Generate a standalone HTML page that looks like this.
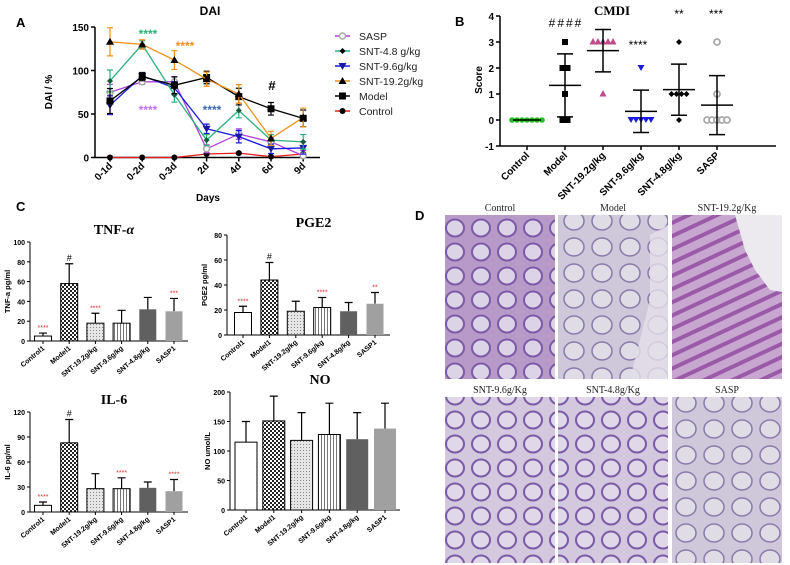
<!DOCTYPE html>
<html><head><meta charset="utf-8"><style>
body{margin:0;background:#fff}
svg{display:block;font-family:"Liberation Sans",Arial,sans-serif}
.ser{font-family:"Liberation Serif",serif}
</style></head><body>
<svg id="fig" width="790" height="565" viewBox="0 0 790 565" xmlns="http://www.w3.org/2000/svg">
<defs>
<pattern id="chk" width="4" height="4" patternUnits="userSpaceOnUse"><rect width="4" height="4" fill="#fff"/><rect width="2" height="2" fill="#222"/><rect x="2" y="2" width="2" height="2" fill="#222"/></pattern>
<pattern id="dot" width="3" height="3" patternUnits="userSpaceOnUse"><rect width="3" height="3" fill="#e6e6e6"/><rect width="1" height="1" fill="#888"/></pattern>
<pattern id="vl" width="3" height="3" patternUnits="userSpaceOnUse"><rect width="3" height="3" fill="#fff"/><rect width="1" height="3" fill="#777"/></pattern>
<pattern id="crypt" width="26" height="24" patternUnits="userSpaceOnUse"><rect width="26" height="24" fill="#b89ac8"/><ellipse cx="13" cy="12" rx="9" ry="8.5" fill="#ddd3e6" stroke="#7a5aa6" stroke-width="2"/></pattern>
<pattern id="crypt2" width="28" height="26" patternUnits="userSpaceOnUse"><rect width="28" height="26" fill="#cfc8da"/><ellipse cx="14" cy="13" rx="10" ry="9" fill="#e0dce6" stroke="#8a7aaa" stroke-width="1.5"/></pattern>
<pattern id="crypt3" width="16" height="12" patternUnits="userSpaceOnUse" patternTransform="rotate(-25)"><rect width="16" height="12" fill="#c7a6cf"/><rect y="4" width="16" height="4" fill="#9a5aa8"/></pattern>
<pattern id="crypt4" width="26" height="24" patternUnits="userSpaceOnUse"><rect width="26" height="24" fill="#d3c8de"/><ellipse cx="13" cy="12" rx="9" ry="8.5" fill="#e0d8e8" stroke="#7a5aa6" stroke-width="2"/></pattern>
</defs>
<g id="pA"></g><g id="pB"></g><g id="pC"></g><g id="pD"></g>
</svg>
<script>
const NS="http://www.w3.org/2000/svg";
function mk(p,t,a,txt){const e=document.createElementNS(NS,t);for(const k in a)e.setAttribute(k,a[k]);if(txt!==undefined)e.textContent=txt;p.appendChild(e);return e;}

// ---------- Panel A data ----------
const dayCats=["0-1d","0-2d","0-3d","2d","4d","6d","9d"];
const saspVals=[75,87,87,10,27,18,2];
const snt48Vals=[88,130,72,20,54,20,18];
const snt96Vals=[60,94,80,33,24,10,11];
const snt192Vals=[133,130,112,90,73,22,46];
const modelVals=[65,93,83,92,70,56,45];
const controlVals=[0,0,0,4,5,1,4];
const dayErr=[12,4,8,6,8,6,8];
const aTicks=[0,50,100,150];

// ---------- Panel B data ----------
const bCats=["Control","Model","SNT-19.2g/kg","SNT-9.6g/kg","SNT-4.8g/kg","SASP"];
const bControl=[0,0,0,0,0,0,0];
const bModel=[3,2,2,1,0,0];
const b192=[3,3,3,3,3,1];
const b96=[2,0,0,0,0,0];
const b48=[3,1,1,1,1,0];
const bSasp=[3,1,0,0,0,0,0];
const bTicks=[-1,0,1,2,3,4];

// ---------- Panel C data ----------
const cCats=["Control1","Model1","SNT-19.2g/kg","SNT-9.6g/kg","SNT-4.8g/kg","SASP1"];
const tnfVals=[5,58,18,18,32,30];
const tnfErr=[3,20,10,13,12,13];
const tnfSig=["****","#","****","","","***"];
const tnfTicks=[0,20,40,60,80,100];
const pgeVals=[18,44,19,22,19,25];
const pgeErr=[5,14,8,8,7,9];
const pgeSig=["****","#","","****","","**"];
const pgeTicks=[0,20,40,60,80];
const il6Vals=[8,83,28,28,29,25];
const il6Err=[4,28,18,13,7,14];
const il6Sig=["****","#","","****","","****"];
const il6Ticks=[0,30,60,90,120];
const noVals=[115,151,118,128,120,138];
const noErr=[35,42,47,53,45,43];
const noTicks=[0,50,100,150,200];

// ---------- Panel A ----------
(function(){
const g=document.getElementById('pA');
const x0=95,x1=320,yT=27,yB=157.5;
const xs=i=>110+i*32.2, ys=v=>yB-(v/150)*(yB-yT);
let t=mk(g,'text',{x:16,y:27,'font-size':13,'font-weight':'bold'},'A');
t=mk(g,'text',{x:210,y:15,'font-size':12,'font-weight':'bold','text-anchor':'middle'},'DAI');
mk(g,'line',{x1:x0,y1:yT,x2:x0,y2:yB,stroke:'#000','stroke-width':1.5});
mk(g,'line',{x1:x0,y1:yB,x2:x1,y2:yB,stroke:'#000','stroke-width':1.5});
aTicks.forEach(v=>{mk(g,'line',{x1:x0-4,y1:ys(v),x2:x0,y2:ys(v),stroke:'#000','stroke-width':1.5});
 const l=mk(g,'text',{x:x0-6,y:ys(v)+4,'font-size':10,'font-weight':'bold','text-anchor':'end'},v);});
dayCats.forEach((c,i)=>{mk(g,'line',{x1:xs(i),y1:yB,x2:xs(i),y2:yB+4,stroke:'#000','stroke-width':1.5});
 const l=mk(g,'text',{x:xs(i)+3,y:yB+9,'font-size':10,'font-weight':'bold','text-anchor':'end',transform:`rotate(-45 ${xs(i)+3} ${yB+9})`},c);});
t=mk(g,'text',{x:52,y:92,'font-size':10,'font-weight':'bold','text-anchor':'middle',transform:'rotate(-90 52 92)'},'DAI / %');
t=mk(g,'text',{x:208,y:201,'font-size':10,'font-weight':'bold','text-anchor':'middle'},'Days');
const series=[[controlVals,'#e0201c','#000','circle','Control'],[saspVals,'#b040e0','#aaa','ocircle','SASP'],[snt96Vals,'#1a1ae0','#1a1aa0','down','SNT-9.6g/kg'],[snt48Vals,'#2ab07a','#1a5a3a','diamond','SNT-4.8 g/kg'],[modelVals,'#000','#000','square','Model'],[snt192Vals,'#f0901a','#000','up','SNT-19.2g/kg']];
function marker(p,sh,x,y,c){
 if(sh=='circle')return mk(p,'circle',{cx:x,cy:y,r:3,fill:c});
 if(sh=='ocircle')return mk(p,'circle',{cx:x,cy:y,r:3,fill:'#fff',stroke:c,'stroke-width':1.5});
 if(sh=='square')return mk(p,'rect',{x:x-3.5,y:y-3.5,width:7,height:7,fill:c});
 if(sh=='up')return mk(p,'path',{d:`M${x} ${y-4}L${x+4} ${y+3}L${x-4} ${y+3}Z`,fill:c});
 if(sh=='down')return mk(p,'path',{d:`M${x} ${y+4}L${x+4} ${y-3}L${x-4} ${y-3}Z`,fill:c});
 return mk(p,'path',{d:`M${x} ${y-3}L${x+3} ${y}L${x} ${y+3}L${x-3} ${y}Z`,fill:c});
}
series.forEach(([vals,col,mc,sh,name],si)=>{
 const sg=mk(g,'g',{});
 mk(sg,'polyline',{points:vals.map((v,i)=>xs(i)+','+ys(v)).join(' '),fill:'none',stroke:col,'stroke-width':1.3});
 vals.forEach((v,i)=>{const e=dayErr[i]*(name=='Control'?0.2:1)*(0.6+0.15*si);
  mk(sg,'path',{d:`M${xs(i)} ${ys(v+e)}V${ys(Math.max(v-e,0))}M${xs(i)-3} ${ys(v+e)}h6M${xs(i)-3} ${ys(Math.max(v-e,0))}h6`,stroke:col,'stroke-width':1.2,fill:'none'});
  const m=marker(sg,sh,xs(i),ys(v),mc);});
});
[['****',148,38,'#2ab07a'],['****',185,50,'#f0901a'],['****',148,114,'#c070f0'],['****',212,114,'#3a6ab0'],['#',272,90,'#000']].forEach(a=>{const l=mk(g,'text',{x:a[1],y:a[2],'font-size':a[0]=='#'?13:12,'font-weight':'bold',fill:a[3],'text-anchor':'middle'},a[0]);});
const leg=[['SASP','#b040e0','#aaa','ocircle'],['SNT-4.8 g/kg','#2ab07a','#000','diamond'],['SNT-9.6g/kg','#1a1ae0','#1a1aa0','down'],['SNT-19.2g/kg','#f0901a','#000','up'],['Model','#000','#000','square'],['Control','#e0201c','#000','circle']];
leg.forEach((l,i)=>{const y=36+i*15;const lg=mk(g,'g',{});
 mk(lg,'line',{x1:335,y1:y,x2:350,y2:y,stroke:l[1],'stroke-width':1.5});marker(lg,l[3],342.5,y,l[2]);
 mk(lg,'text',{x:359,y:y+4,'font-size':10.5,fill:'#222'},l[0]);});
})();

// ---------- Panel B ----------
(function(){
const g=document.getElementById('pB');
const x0=500,x1=776,ys=v=>120-v*26, xs=i=>527+i*38;
let t=mk(g,'text',{x:455,y:26,'font-size':13,'font-weight':'bold'},'B');
t=mk(g,'text',{x:612,y:15,'font-size':13,'font-weight':'bold','text-anchor':'middle',class:'ser'},'CMDI');
mk(g,'line',{x1:x0,y1:ys(4),x2:x0,y2:ys(-1),stroke:'#000','stroke-width':1.5});
mk(g,'line',{x1:x0,y1:ys(-1),x2:x1,y2:ys(-1),stroke:'#000','stroke-width':1.5});
bTicks.forEach(v=>{mk(g,'line',{x1:x0-4,y1:ys(v),x2:x0,y2:ys(v),stroke:'#000','stroke-width':1.5});
 const l=mk(g,'text',{x:x0-6,y:ys(v)+4,'font-size':10,'font-weight':'bold','text-anchor':'end'},v);});
bCats.forEach((c,i)=>{mk(g,'line',{x1:xs(i),y1:ys(-1),x2:xs(i),y2:ys(-1)+4,stroke:'#000','stroke-width':1.5});
 const l=mk(g,'text',{x:xs(i)+3,y:ys(-1)+10,'font-size':10,'font-weight':'bold','text-anchor':'end',transform:`rotate(-45 ${xs(i)+3} ${ys(-1)+10})`},c);});
t=mk(g,'text',{x:482,y:80,'font-size':10,'font-weight':'bold','text-anchor':'middle',transform:'rotate(-90 482 80)'},'Score');
const groups=[[bControl,'#1ec01e','circle'],[bModel,'#000','square'],[b192,'#c04a8a','up'],[b96,'#1a1ae0','down'],[b48,'#000','diamond'],[bSasp,'#aaa','ocircle']];
groups.forEach(([vals,col,sh],i)=>{
 const sg=mk(g,'g',{});
 const n=vals.length,m=vals.reduce((a,b)=>a+b,0)/n,sd=Math.sqrt(vals.reduce((a,b)=>a+(b-m)*(b-m),0)/(n-1));
 const cnt={};
 vals.forEach(v=>{cnt[v]=(cnt[v]||0)+1;});
 const seen={};
 vals.forEach(v=>{seen[v]=(seen[v]||0)+1;const off=(seen[v]-(cnt[v]+1)/2)*5;const x=xs(i)+off,y=ys(v);
  let e;
  if(sh=='circle')e=mk(sg,'circle',{cx:x,cy:y,r:2.8,fill:col});
  else if(sh=='ocircle')e=mk(sg,'circle',{cx:x,cy:y,r:3,fill:'#fff',stroke:col,'stroke-width':1.8});
  else if(sh=='square')e=mk(sg,'rect',{x:x-3,y:y-3,width:6,height:6,fill:col});
  else if(sh=='up')e=mk(sg,'path',{d:`M${x} ${y-4}L${x+3.5} ${y+2.5}L${x-3.5} ${y+2.5}Z`,fill:col});
  else if(sh=='down')e=mk(sg,'path',{d:`M${x} ${y+3}L${x+3.5} ${y-3}L${x-3.5} ${y-3}Z`,fill:col});
  else e=mk(sg,'path',{d:`M${x} ${y-3}L${x+3} ${y}L${x} ${y+3}L${x-3} ${y}Z`,fill:col});
  });
 if(sd>0){mk(sg,'path',{d:`M${xs(i)-16} ${ys(m)}h32M${xs(i)} ${ys(m+sd)}V${ys(m-sd)}M${xs(i)-8} ${ys(m+sd)}h16M${xs(i)-8} ${ys(m-sd)}h16`,stroke:'#000','stroke-width':1.5,fill:'none'});}
 else mk(sg,'path',{d:`M${xs(i)-14} ${ys(m)}h28`,stroke:'#000','stroke-width':1.5});
});
[['####',566,27],['****',638,49],['**',679,18],['***',716,18]].forEach(a=>{const l=mk(g,'text',{x:a[1],y:a[2],'font-size':12,'text-anchor':'middle','letter-spacing':a[0]=='####'?2:0},a[0]);});
})();

// ---------- Panel C ----------
(function(){
const g=document.getElementById('pC');
let t=mk(g,'text',{x:16,y:211,'font-size':13,'font-weight':'bold'},'C');
const fills=['#fff','url(#chk)','url(#dot)','url(#vl)','#606060','#a0a0a0'];
function bar(name,title,yl,vals,err,sig,ticks,ax,yT,yB,cx0,dx,bw,x1){
 const p=mk(g,'g',{});
 const mx=ticks[ticks.length-1],ys=v=>yB-v/mx*(yB-yT),xs=i=>cx0+i*dx;
 const tt=mk(p,'text',{x:(ax+x1)/2+5,y:yT-8,'font-size':14,'font-weight':'bold','text-anchor':'middle',class:'ser'},title);
 if(title=='TNF-'){tt.textContent='TNF-';mk(tt,'tspan',{'font-style':'italic'},'α');}
 mk(p,'line',{x1:ax,y1:yT,x2:ax,y2:yB,stroke:'#000','stroke-width':1});
 mk(p,'line',{x1:ax,y1:yB,x2:x1,y2:yB,stroke:'#000','stroke-width':1});
 ticks.forEach(v=>{mk(p,'line',{x1:ax-3,y1:ys(v),x2:ax,y2:ys(v),stroke:'#000'});const l=mk(p,'text',{x:ax-5,y:ys(v)+3,'font-size':7,'font-weight':'bold','text-anchor':'end'},v);});
 const yl2=mk(p,'text',{x:ax-20,y:(yT+yB)/2,'font-size':7.5,'font-weight':'bold','text-anchor':'middle',transform:`rotate(-90 ${ax-20} ${(yT+yB)/2})`},yl);
 vals.forEach((v,i)=>{const x=xs(i);
  mk(p,'path',{d:`M${x} ${ys(v)}V${ys(v+err[i])}M${x-4} ${ys(v+err[i])}h8`,stroke:'#000','stroke-width':1.2});
  const r=mk(p,'rect',{x:x-bw/2,y:ys(v),width:bw,height:yB-ys(v),fill:fills[i],stroke:i>=4?'none':'#000','stroke-width':1});
  mk(p,'line',{x1:x,y1:yB,x2:x,y2:yB+3,stroke:'#000'});
  const l=mk(p,'text',{x:x+2,y:yB+8,'font-size':7,'font-weight':'bold','text-anchor':'end',transform:`rotate(-40 ${x+2} ${yB+8})`},cCats[i]);
  if(sig&&sig[i]){const s=mk(p,'text',{x:x,y:ys(v+err[i])-3,'font-size':sig[i]=='#'?9:7,fill:sig[i]=='#'?'#000':'#e03030','text-anchor':'middle'},sig[i]);}
 });
}
bar('tnf','TNF-','TNF-a pg/ml',tnfVals,tnfErr,tnfSig,tnfTicks,30,242,341,43,26.2,17,188);
bar('pge2','PGE2','PGE2 pg/ml',pgeVals,pgeErr,pgeSig,pgeTicks,227,235,335,243,26.4,17,390);
bar('il6','IL-6','IL-6 pg/ml',il6Vals,il6Err,il6Sig,il6Ticks,30,412,512,43,26.2,17,188);
bar('no','NO','NO umol/L',noVals,noErr,null,noTicks,230,392,510,246,27.8,22,400);
})();

// ---------- Panel D ----------
(function(){
const g=document.getElementById('pD');
let t=mk(g,'text',{x:415,y:220,'font-size':13,'font-weight':'bold'},'D');
const names=["Control","Model","SNT-19.2g/Kg","SNT-9.6g/Kg","SNT-4.8g/Kg","SASP"];
const pats=["crypt","crypt2","crypt3","crypt4","crypt4","crypt2"];
const xsD=[445,558,672],ysD=[[215,379],[397,563]];
names.forEach((n,i)=>{const c=i%3,r=Math.floor(i/3),x=xsD[c],y=ysD[r][0],h=ysD[r][1]-y;
 const l=mk(g,'text',{x:x+55,y:y-4,'font-size':10,'text-anchor':'middle',class:'ser',fill:'#222'},n);
 const im=mk(g,'rect',{x:x,y:y,width:110,height:h,fill:`url(#${pats[i]})`});
});
mk(g,'path',{d:'M735 215L782 215L782 292L770 290L755 270L745 250Z',fill:'#ece9ef'});
mk(g,'path',{d:'M650 235L668 225L668 379L630 379L650 300Z',fill:'#e4e0e8',opacity:0.8});
})();
</script>
</body></html>
